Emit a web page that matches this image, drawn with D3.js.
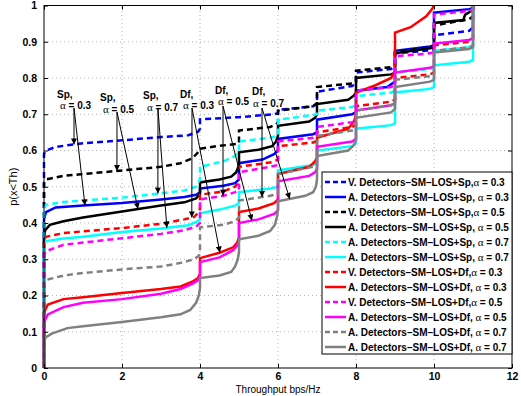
<!DOCTYPE html>
<html>
<head>
<meta charset="utf-8">
<script src="https://cdn.jsdelivr.net/npm/d3@7/dist/d3.min.js"></script>
<style>
body { margin: 0; background: #fff; }
text { font-family: Arial, "Liberation Sans", Helvetica, sans-serif; }
</style>
</head>
<body>
<div id="chart"></div>
<script>
var xTicks = [0, 2, 4, 6, 8, 10, 12];
var yTicks = [0, 0.1, 0.2, 0.3, 0.4, 0.5, 0.6, 0.7, 0.8, 0.9, 1];

var seriesNames = [
    ["V. Detectors\u2013SM\u2013LOS+Sp,", "0.3"],
    ["A. Detectors\u2013SM\u2013LOS+Sp, ", "0.3"],
    ["V. Detectors\u2013SM\u2013LOS+Sp,", "0.5"],
    ["A. Detectors\u2013SM\u2013LOS+Sp, ", "0.5"],
    ["A. Detectors\u2013SM\u2013LOS+Sp, ", "0.7"],
    ["A. Detectors\u2013SM\u2013LOS+Sp, ", "0.7"],
    ["V. Detectors\u2013SM\u2013LOS+Df,", "0.3"],
    ["A. Detectors\u2013SM\u2013LOS+Df, ", "0.3"],
    ["V. Detectors\u2013SM\u2013LOS+Df,", "0.5"],
    ["A. Detectors\u2013SM\u2013LOS+Df, ", "0.5"],
    ["A. Detectors\u2013SM\u2013LOS+Df, ", "0.7"],
    ["A. Detectors\u2013SM\u2013LOS+Df, ", "0.7"]
];
var seriesColors = ["#0000ff", "#0000ff", "#000000", "#000000", "#00ffff", "#00ffff",
                    "#ff0000", "#ff0000", "#ff00ff", "#ff00ff", "#808080", "#808080"];
var seriesDashed = [true, false, true, false, true, false, true, false, true, false, true, false];

// [throughput, p(x<Th)]
var vSp03 = [[0,0],[0,0.59],[0.05,0.6],[0.3,0.61],[1,0.62],[2,0.628],[3,0.637],[3.7,0.642],[3.95,0.652],[4,0.66],[4,0.686],[5,0.692],[5.9,0.7],[6,0.703],[6,0.712],[6.9,0.722],[7,0.73],[7,0.762],[7.9,0.778],[8,0.785],[8,0.815],[8.9,0.825],[9,0.83],[9,0.868],[9.9,0.876],[10,0.88],[10,0.918],[10.9,0.93],[11,0.94],[11,1]];
var aSp03 = [[0,0],[0,0.41],[0.05,0.43],[0.3,0.443],[1,0.448],[2,0.455],[3,0.465],[3.6,0.472],[3.9,0.478],[4,0.485],[4,0.495],[4.6,0.503],[4.9,0.51],[5,0.52],[5,0.565],[5.6,0.575],[5.9,0.59],[6,0.6],[6,0.632],[6.9,0.645],[7,0.65],[7,0.685],[7.9,0.7],[8,0.705],[8,0.765],[8.8,0.775],[9,0.79],[9,0.875],[9.9,0.887],[10,0.89],[10,0.98],[10.9,0.99],[11,0.993],[11,1]];
var vSp05 = [[0,0],[0,0.51],[0.05,0.52],[0.5,0.53],[1,0.535],[2,0.545],[3,0.555],[3.5,0.565],[3.8,0.578],[3.95,0.595],[4,0.605],[4.5,0.613],[4.95,0.618],[5,0.62],[5,0.655],[5.8,0.665],[5.95,0.672],[6,0.678],[6,0.71],[6.9,0.722],[7,0.73],[7,0.775],[7.9,0.785],[8,0.79],[8,0.82],[8.9,0.83],[9,0.835],[9,0.872],[9.9,0.885],[10,0.89],[10,0.945],[10.9,0.962],[11,0.97],[11,1]];
var aSp05 = [[0,0],[0,0.36],[0.03,0.38],[0.15,0.395],[0.5,0.405],[1,0.415],[2,0.432],[3,0.448],[3.6,0.457],[3.9,0.468],[4,0.48],[4,0.512],[4.5,0.52],[4.8,0.528],[4.93,0.54],[5,0.56],[5,0.595],[5.5,0.602],[5.85,0.612],[5.95,0.625],[6,0.64],[6,0.668],[6.8,0.68],[6.95,0.69],[7,0.7],[7,0.728],[7.8,0.74],[7.95,0.752],[8,0.76],[8,0.8],[8.9,0.81],[9,0.815],[9,0.868],[9.9,0.882],[10,0.885],[10,0.952],[10.75,0.96],[10.8,0.975],[10.95,0.985],[11,0.99],[11,1]];
var vSp07 = [[0,0],[0,0.44],[0.05,0.45],[0.5,0.458],[1,0.462],[2,0.47],[3,0.482],[3.6,0.49],[3.9,0.5],[4,0.52],[4,0.555],[4.6,0.57],[4.9,0.585],[5,0.595],[5,0.625],[5.8,0.635],[6,0.64],[6,0.685],[6.9,0.698],[7,0.7],[7,0.71],[7.9,0.72],[8,0.725],[8,0.75],[8.9,0.76],[9,0.765],[9,0.815],[9.9,0.825],[10,0.83],[10,0.875],[10.9,0.885],[11,0.89],[11,1]];
var aSp07 = [[0,0],[0,0.34],[0.05,0.35],[0.5,0.357],[1,0.362],[2,0.375],[3,0.385],[3.7,0.394],[3.95,0.405],[4,0.41],[4,0.427],[4.5,0.437],[4.9,0.448],[5,0.455],[5,0.485],[5.8,0.495],[6,0.5],[6,0.545],[6.9,0.56],[7,0.565],[7,0.6],[7.9,0.612],[8,0.62],[8,0.66],[8.9,0.67],[9,0.675],[9,0.76],[9.9,0.77],[10,0.775],[10,0.835],[10.9,0.845],[11,0.85],[11,1]];
var vDf03 = [[0,0],[0,0.35],[0.05,0.362],[0.5,0.372],[1,0.377],[2,0.386],[3,0.398],[3.6,0.41],[3.85,0.417],[3.97,0.43],[4,0.44],[4,0.478],[4.6,0.487],[4.9,0.5],[5,0.515],[5,0.555],[5.8,0.567],[6,0.575],[6,0.612],[6.9,0.622],[7,0.627],[7,0.65],[7.9,0.665],[8,0.67],[8,0.722],[8.9,0.735],[9,0.74],[9,0.8],[9.9,0.81],[10,0.815],[10,0.89],[10.9,0.9],[11,0.905],[11,1]];
var aDf03 = [[0,0],[0,0.15],[0.03,0.16],[0.1,0.175],[0.5,0.19],[1,0.195],[2,0.207],[3,0.218],[3.5,0.225],[3.8,0.238],[3.95,0.248],[4,0.26],[4,0.303],[4.5,0.318],[4.85,0.333],[4.95,0.345],[5,0.36],[5,0.43],[5.5,0.44],[5.9,0.455],[6,0.465],[6,0.535],[6.8,0.555],[6.95,0.57],[7,0.58],[7,0.635],[7.8,0.66],[7.95,0.68],[8,0.7],[8,0.76],[8.5,0.78],[8.9,0.8],[9,0.82],[9,0.925],[9.4,0.94],[9.8,0.97],[9.95,0.99],[10,1]];
var vDf05 = [[0,0],[0,0.31],[0.05,0.322],[0.5,0.34],[1,0.346],[2,0.358],[3,0.37],[3.6,0.38],[3.9,0.39],[4,0.4],[4,0.465],[4.6,0.475],[4.9,0.485],[5,0.49],[5,0.54],[5.8,0.555],[6,0.56],[6,0.625],[6.9,0.635],[7,0.64],[7,0.665],[7.9,0.678],[8,0.682],[8,0.765],[8.9,0.775],[9,0.78],[9,0.86],[9.9,0.868],[10,0.872],[10,0.975],[10.9,0.985],[11,0.99],[11,1]];
var aDf05 = [[0,0],[0,0.12],[0.03,0.133],[0.1,0.148],[0.5,0.168],[1,0.18],[2,0.19],[3,0.205],[3.5,0.218],[3.8,0.232],[3.95,0.242],[4,0.25],[4,0.292],[4.5,0.305],[4.85,0.325],[4.95,0.338],[5,0.35],[5,0.4],[5.5,0.41],[5.9,0.425],[6,0.435],[6,0.515],[6.8,0.53],[6.95,0.54],[7,0.55],[7,0.61],[7.9,0.625],[8,0.632],[8,0.71],[8.9,0.725],[9,0.73],[9,0.815],[9.9,0.828],[10,0.832],[10,0.895],[10.9,0.905],[11,0.91],[11,1]];
var vDf07 = [[0,0],[0,0.23],[0.05,0.243],[0.5,0.255],[1,0.262],[2,0.272],[3,0.28],[3.5,0.29],[3.85,0.3],[3.97,0.31],[4,0.32],[4,0.388],[4.6,0.395],[4.9,0.405],[5,0.415],[5,0.462],[5.8,0.475],[6,0.48],[6,0.535],[6.9,0.555],[7,0.56],[7,0.64],[7.9,0.655],[8,0.66],[8,0.71],[8.9,0.725],[9,0.73],[9,0.795],[9.9,0.805],[10,0.81],[10,0.875],[10.9,0.885],[11,0.89],[11,1]];
var aDf07 = [[0,0],[0,0.075],[0.05,0.085],[0.2,0.095],[0.6,0.11],[1,0.115],[2,0.127],[3,0.14],[3.5,0.148],[3.75,0.16],[3.9,0.18],[3.97,0.2],[4,0.22],[4,0.248],[4.5,0.255],[4.8,0.265],[4.9,0.28],[4.97,0.3],[5,0.32],[5,0.355],[5.5,0.365],[5.8,0.378],[5.92,0.395],[5.98,0.42],[6,0.44],[6,0.46],[6.7,0.475],[6.9,0.485],[6.97,0.5],[7,0.52],[7,0.585],[7.8,0.6],[7.95,0.615],[8,0.63],[8,0.69],[8.9,0.705],[9,0.715],[9,0.775],[9.9,0.79],[10,0.795],[10,0.87],[10.9,0.88],[11,0.885],[11,1]];

var seriesData = [vSp03, aSp03, vSp05, aSp05, vSp07, aSp07, vDf03, aDf03, vDf05, aDf05, vDf07, aDf07];

// annotation text, and the throughput each arrow points at (arrow tips sit on the curves)
var annotKind = ["Sp,", "Sp,", "Sp,", "Df,", "Df,", "Df,"];
var annotAlpha = ["0.3", "0.5", "0.7", "0.3", "0.5", "0.7"];
var annotTargets = [[[0, 0.77], [1, 1.05]], [[2, 1.87], [3, 2.41]], [[4, 2.92], [5, 3.15]],
                    [[6, 3.79], [7, 4.51]], [[8, 4.59], [9, 5.33]], [[10, 5.59], [11, 6.3]]];

var W = 521, H = 396;
var margin = {left: 44, right: 9, top: 5.5, bottom: 28};
var FONT_B = "bold 10px Arial, 'Liberation Sans', sans-serif";
var SERIF = "'Liberation Serif', 'DejaVu Serif', serif";

function interpY(pts, x) {
    for (var i = 0; i < pts.length - 1; i++) {
        if (x >= pts[i][0] && x < pts[i + 1][0]) {
            var t = (x - pts[i][0]) / (pts[i + 1][0] - pts[i][0]);
            return pts[i][1] + t * (pts[i + 1][1] - pts[i][1]);
        }
    }
    return pts[pts.length - 1][1];
}

var svg = d3.select("#chart").append("svg")
    .attr("width", W)
    .attr("height", H);

var x = d3.scaleLinear().domain([0, 12]).range([margin.left, W - margin.right]);
var y = d3.scaleLinear().domain([0, 1]).range([H - margin.bottom, margin.top]);

// grid
var grid = svg.append("g").attr("class", "grid");
grid.selectAll("line.gx")
    .data(xTicks.slice(1, -1)).enter()
    .append("line")
    .attr("x1", function (d) { return x(d); })
    .attr("x2", function (d) { return x(d); })
    .attr("y1", y(0)).attr("y2", y(1))
    .attr("stroke", "#b0b0b0").attr("stroke-width", 1)
    .attr("stroke-dasharray", "1,3");
grid.selectAll("line.gy")
    .data(yTicks.slice(1, -1)).enter()
    .append("line")
    .attr("y1", function (d) { return y(d); })
    .attr("y2", function (d) { return y(d); })
    .attr("x1", x(0)).attr("x2", x(12))
    .attr("stroke", "#b0b0b0").attr("stroke-width", 1)
    .attr("stroke-dasharray", "1,3");

svg.append("clipPath").attr("id", "clip")
    .append("rect")
    .attr("x", x(0) - 2).attr("y", y(1) - 1)
    .attr("width", x(12) - x(0) + 4).attr("height", y(0) - y(1) + 2);

var line = d3.line()
    .x(function (d) { return x(d[0]); })
    .y(function (d) { return y(d[1]); });

var curves = svg.append("g").attr("clip-path", "url(#clip)");
curves.selectAll("path")
    .data(seriesData).enter()
    .append("path")
    .attr("d", line)
    .attr("fill", "none")
    .attr("stroke", function (d, i) { return seriesColors[i]; })
    .attr("stroke-width", 2.5)
    .attr("stroke-dasharray", function (d, i) { return seriesDashed[i] ? "6,4" : null; });

// axes with inward ticks on all sides
var xAxis = d3.axisBottom(x).tickValues(xTicks).tickSizeInner(-4).tickSizeOuter(0).tickPadding(5);
var yAxis = d3.axisLeft(y).tickValues(yTicks).tickSizeInner(-4).tickSizeOuter(0).tickPadding(7)
    .tickFormat(function (d) { return d3.format("~g")(d); });

svg.append("g").attr("transform", "translate(0," + y(0) + ")").call(xAxis);
svg.append("g").attr("transform", "translate(" + x(0) + ",0)").call(yAxis);
svg.append("g").attr("transform", "translate(0," + y(1) + ")")
    .call(d3.axisTop(x).tickValues(xTicks).tickSizeInner(-4).tickSizeOuter(0).tickFormat(""));
svg.append("g").attr("transform", "translate(" + x(12) + ",0)")
    .call(d3.axisRight(y).tickValues(yTicks).tickSizeInner(-4).tickSizeOuter(0).tickFormat(""));
svg.selectAll(".domain").remove();
svg.selectAll(".tick line").attr("stroke", "#000");
svg.selectAll(".tick text").style("font", "bold 10.5px Arial, 'Liberation Sans', sans-serif").attr("fill", "#000");

svg.append("rect")
    .attr("x", x(0)).attr("y", y(1))
    .attr("width", x(12) - x(0)).attr("height", y(0) - y(1))
    .attr("fill", "none").attr("stroke", "#000").attr("stroke-width", 1);

svg.append("text")
    .attr("x", (x(0) + x(12)) / 2).attr("y", H - 3)
    .attr("text-anchor", "middle")
    .style("font-size", "10px")
    .text("Throughput bps/Hz");
svg.append("text")
    .attr("transform", "translate(17," + ((y(0) + y(1)) / 2) + ")rotate(-90)")
    .attr("text-anchor", "middle")
    .style("font-size", "11px")
    .text("p(x<Th)");

// annotations: kind label, alpha label, arrow tail
var annotLabelPos = [[57, 98, 60, 109, 74, 108], [100, 101, 103, 113, 117, 112], [143, 99, 147, 111, 158, 109],
                     [180, 98, 183, 109, 192, 108], [215, 94, 218, 105, 223, 106], [252, 95, 253, 107, 262, 108]];

var defs = svg.append("defs");
defs.append("marker").attr("id", "ah")
    .attr("viewBox", "0 0 10 10").attr("refX", 10).attr("refY", 5)
    .attr("markerWidth", 7).attr("markerHeight", 6)
    .attr("markerUnits", "userSpaceOnUse")
    .attr("orient", "auto")
    .append("path").attr("d", "M0,0L10,5L0,10z").attr("fill", "#000");

var ann = svg.append("g");
annotKind.forEach(function (k, i) {
    var p = annotLabelPos[i];
    ann.append("text").attr("x", p[0]).attr("y", p[1]).style("font", FONT_B).text(k);
    var t = ann.append("text").attr("x", p[2]).attr("y", p[3]).style("font", FONT_B);
    t.append("tspan").style("font-family", SERIF)
        .style("font-weight", "normal").style("font-size", "11px").text("\u03b1");
    t.append("tspan").text(" = " + annotAlpha[i]);
    annotTargets[i].forEach(function (tg) {
        var pts = seriesData[tg[0]];
        ann.append("line")
            .attr("x1", p[4]).attr("y1", p[5])
            .attr("x2", x(tg[1])).attr("y2", y(interpY(pts, tg[1])))
            .attr("stroke", "#000").attr("stroke-width", 1)
            .attr("marker-end", "url(#ah)");
    });
});

// legend
var lg = svg.append("g");
var lgX = 322, lgY = 172, lgW = 190, lgH = 182, rowH = 15;
lg.append("rect").attr("x", lgX).attr("y", lgY).attr("width", lgW).attr("height", lgH)
    .attr("fill", "#fff").attr("stroke", "#000").attr("stroke-width", 1);
seriesNames.forEach(function (nm, i) {
    var cy = lgY + 10 + i * rowH;
    lg.append("line").attr("x1", lgX + 3).attr("x2", lgX + 24)
        .attr("y1", cy).attr("y2", cy)
        .attr("stroke", seriesColors[i]).attr("stroke-width", 2.5)
        .attr("stroke-dasharray", seriesDashed[i] ? "5,3" : null);
    var t = lg.append("text").attr("x", lgX + 26).attr("y", cy + 3.5).style("font", FONT_B);
    t.append("tspan").text(nm[0]);
    t.append("tspan").style("font-family", SERIF)
        .style("font-weight", "normal").style("font-size", "11px").text("\u03b1");
    t.append("tspan").text(" = " + nm[1]);
});
</script>
</body>
</html>
